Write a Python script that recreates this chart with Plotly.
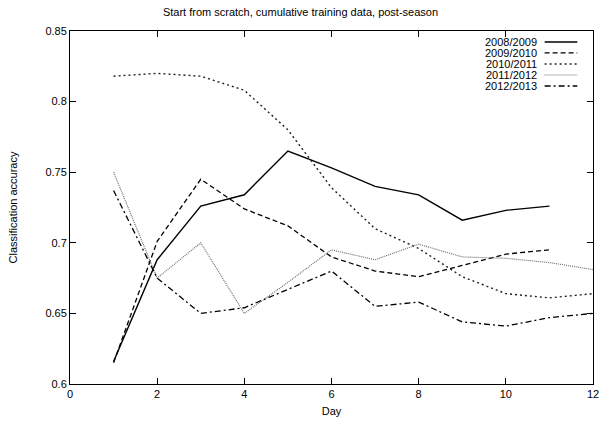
import plotly.graph_objects as go

days = [1, 2, 3, 4, 5, 6, 7, 8, 9, 10, 11, 12]

acc_2008_2009 = [0.616, 0.688, 0.726, 0.734, 0.765, 0.753, 0.740, 0.734, 0.716, 0.723, 0.726]
acc_2009_2010 = [0.615, 0.701, 0.745, 0.724, 0.712, 0.690, 0.680, 0.676, 0.684, 0.692, 0.695]
acc_2010_2011 = [0.818, 0.820, 0.818, 0.808, 0.780, 0.739, 0.710, 0.696, 0.676, 0.664, 0.661, 0.664]
acc_2011_2012 = [0.750, 0.675, 0.700, 0.650, 0.672, 0.695, 0.688, 0.699, 0.690, 0.689, 0.686, 0.681]
acc_2012_2013 = [0.737, 0.675, 0.650, 0.654, 0.667, 0.680, 0.655, 0.658, 0.644, 0.641, 0.647, 0.650]

seasons = ["2008/2009", "2009/2010", "2010/2011", "2011/2012", "2012/2013"]
series = [acc_2008_2009, acc_2009_2010, acc_2010_2011, acc_2011_2012, acc_2012_2013]
styles = [
    dict(color="black", width=1.4, dash="solid"),
    dict(color="black", width=1.3, dash="5px,3px"),
    dict(color="#222222", width=1.4, dash="2px,3px"),
    dict(color="#707070", width=1.2, dash="1px,1px"),
    dict(color="black", width=1.3, dash="6px,3px,2px,3px"),
]

x_ticks = [0, 2, 4, 6, 8, 10, 12]
y_ticks = [0.6, 0.65, 0.7, 0.75, 0.8, 0.85]
y_tick_text = ["0.6", "0.65", "0.7", "0.75", "0.8", "0.85"]

FONT = "Liberation Sans, Arial, sans-serif"

fig = go.Figure()
for name, vals, st in zip(seasons, series, styles):
    fig.add_trace(go.Scatter(x=days[:len(vals)], y=vals, mode="lines", name=name,
                             line=st, showlegend=False))

# Legend drawn gnuplot-style: label right-aligned, sample line to its right
row_top = 0.969
row_step = 0.0312
for i, (name, st) in enumerate(zip(seasons, styles)):
    yy = row_top - i * row_step
    fig.add_annotation(x=0.896, y=yy, xref="paper", yref="paper", text=name,
                       showarrow=False, xanchor="right", yanchor="middle",
                       font=dict(family=FONT, size=11, color="black"))
    fig.add_shape(type="line", xref="paper", yref="paper",
                  x0=0.9075, x1=0.970, y0=yy, y1=yy, line=st)

fig.update_layout(
    width=601, height=423,
    margin=dict(l=69.5, r=7.5, t=31, b=39),
    paper_bgcolor="white", plot_bgcolor="white",
    font=dict(family=FONT, size=11, color="black"),
    title=dict(text="Start from scratch, cumulative training data, post-season",
               x=0.5, xanchor="center", y=0.972, yanchor="middle",
               font=dict(family=FONT, size=11, color="black")),
)
fig.update_xaxes(
    range=[0, 12], tickvals=x_ticks, ticks="inside", ticklen=6, tickcolor="black",
    showline=True, linecolor="black", linewidth=1, mirror="ticks",
    showgrid=False, zeroline=False, automargin=False,
    title=dict(text="Day", font=dict(family=FONT, size=11), standoff=8),
)
fig.update_yaxes(
    range=[0.6, 0.85], tickvals=y_ticks, ticktext=y_tick_text, ticks="inside",
    ticklen=6, tickcolor="black",
    showline=True, linecolor="black", linewidth=1, mirror="ticks",
    showgrid=False, zeroline=False, automargin=False,
    title=dict(text="Classification accuracy", font=dict(family=FONT, size=11), standoff=25),
)

fig.write_html("out.html")
